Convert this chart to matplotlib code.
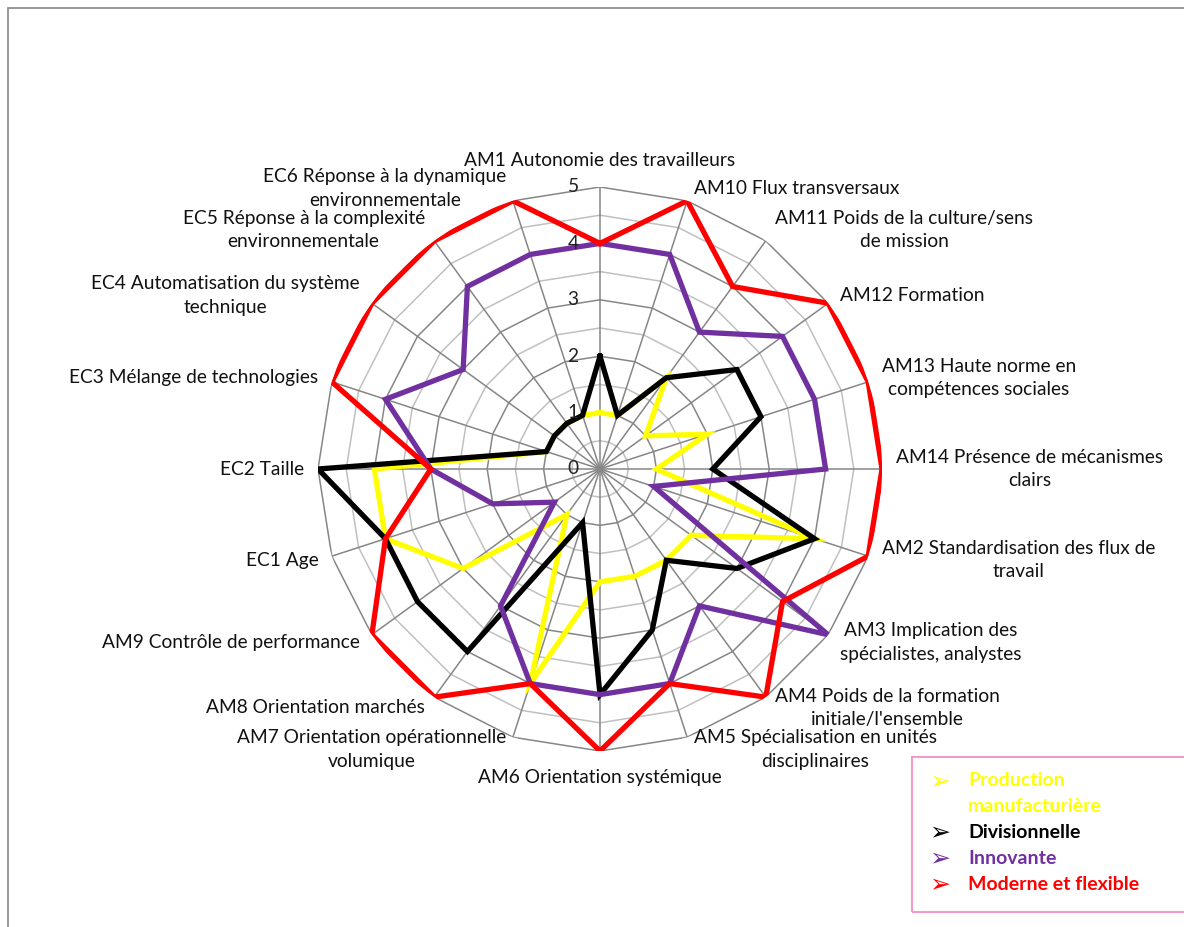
import numpy as np
import matplotlib.pyplot as plt
from matplotlib.patches import Rectangle

plt.rcParams['font.family'] = ['Lato', 'DejaVu Sans']

# axes of the radar, clockwise from the top
categories = ['AM1 Autonomie des travailleurs', 'AM10 Flux transversaux',
              'AM11 Poids de la culture/sens\nde mission', 'AM12 Formation',
              'AM13 Haute norme en\ncompétences sociales',
              'AM14 Présence de mécanismes\nclairs',
              'AM2 Standardisation des flux de\ntravail',
              'AM3 Implication des\nspécialistes, analystes',
              'AM4 Poids de la formation\ninitiale/l\'ensemble',
              'AM5 Spécialisation en unités\ndisciplinaires',
              'AM6 Orientation systémique',
              'AM7 Orientation opérationnelle\nvolumique',
              'AM8 Orientation marchés', 'AM9 Contrôle de performance',
              'EC1 Age', 'EC2 Taille', 'EC3 Mélange de technologies',
              'EC4 Automatisation du système\ntechnique',
              'EC5 Réponse à la complexité\nenvironnementale',
              'EC6 Réponse à la dynamique\nenvironnementale']

production = [1, 1, 2, 1, 2, 1, 4, 2, 2, 2, 2, 4, 1, 3, 4, 4, 1, 1, 1, 1]
divisionnelle = [2, 1, 2, 3, 3, 2, 4, 3, 2, 3, 4, 1, 4, 4, 4, 5, 1, 1, 1, 1]
innovante = [4, 4, 3, 4, 4, 4, 1, 5, 3, 4, 4, 4, 3, 1, 2, 3, 4, 3, 4, 4]
moderne = [4, 5, 4, 5, 5, 5, 5, 4, 5, 4, 5, 4, 5, 5, 4, 3, 5, 5, 5, 5]

series_values = [production, divisionnelle, innovante, moderne]
colors = ['#ffff00', '#000000', '#7030a0', '#ff0000']

W, H = 1184, 927
fig = plt.figure(figsize=(W / 100, H / 100), dpi=100)

cx, cy, R = 600, 469, 282
ax = fig.add_axes([(cx - R) / W, (H - cy - R) / H, 2 * R / W, 2 * R / H],
                  projection='polar')
ax.set_theta_offset(np.pi / 2)
ax.set_theta_direction(-1)
ax.set_ylim(0, 5)
ax.grid(False)
ax.spines['polar'].set_visible(False)
ax.set_xticks([])
ax.set_yticks([])
ax.patch.set_alpha(0)

n = len(categories)
theta = np.linspace(0, 2 * np.pi, n, endpoint=False)
theta_c = np.append(theta, theta[0])

# polygon grid
for r in np.arange(0.5, 5.01, 0.5):
    major = float(r).is_integer()
    ax.plot(theta_c, [r] * (n + 1), color='#868686' if major else '#c0c0c0',
            lw=1.1, zorder=1)
for t in theta:
    ax.plot([t, t], [0, 5], color='#868686', lw=1.1, zorder=1)

for vals, c in zip(series_values, colors):
    ax.plot(theta_c, vals + vals[:1], color=c, lw=3.8, zorder=3,
            solid_joinstyle='miter')

fs = 13.8

# radial tick labels
for r in range(6):
    ax.annotate(str(r), (0, r), xytext=(-27, 0), textcoords='offset pixels',
                ha='center', va='center', fontsize=fs, color='#222222')

# category labels
for t, lab in zip(theta, categories):
    ang = np.pi / 2 - t
    c, s = np.cos(ang), np.sin(ang)
    if abs(c) < 1e-6:
        ha = 'center'
        dx, dy = 0, 27 * np.sign(s)
    else:
        ha = 'left' if c > 0 else 'right'
        dx = (11 * abs(c) + 3) * np.sign(c)
        dy = 13 * s
    ax.annotate(lab, (t, 5), xytext=(dx, dy), textcoords='offset pixels',
                ha=ha, va='center', multialignment='center', linespacing=1.45,
                fontsize=fs, color='#111111', annotation_clip=False)

# outer frame
fig.patches.append(Rectangle((8 / W, -0.1), 1.2, 1.1 - 8 / H,
                             transform=fig.transFigure, fill=False,
                             edgecolor='#868686', lw=1.2))

# legend box
fig.patches.append(Rectangle((912 / W, 1 - 912 / H), 0.5, 155 / H,
                             transform=fig.transFigure, fill=False,
                             edgecolor='#f49ac9', lw=1.5))
rows = [(781, 'Production', colors[0], True), (806, 'manufacturière', colors[0], False),
        (832, 'Divisionnelle', colors[1], True), (858, 'Innovante', colors[2], True),
        (884, 'Moderne et flexible', colors[3], True)]
for y, txt, c, arrow in rows:
    if arrow:
        fig.text(940 / W, 1 - y / H, '➢', color=c, fontsize=18,
                 family='DejaVu Sans', ha='center', va='center')
    fig.text(968 / W, 1 - y / H, txt, color=c, fontsize=14,
             fontweight='bold', ha='left', va='center')

fig.savefig('out.png', dpi=100)
